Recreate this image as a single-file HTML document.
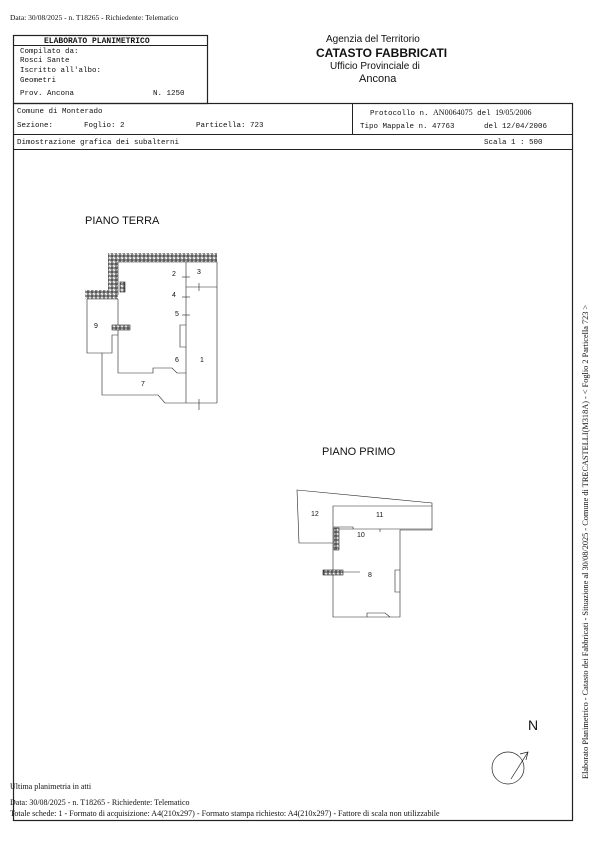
<!DOCTYPE html>
<html><head><meta charset="utf-8"><style>
body{margin:0;width:600px;height:848px;background:#fff;position:relative;overflow:hidden}
.t{position:absolute;font-family:"Liberation Serif",serif;font-size:8px;color:#111;white-space:nowrap}
.m{position:absolute;font-family:"Liberation Mono",monospace;font-size:7.5px;color:#111;white-space:nowrap}
.s{position:absolute;font-family:"Liberation Sans",sans-serif;color:#111;white-space:nowrap}
</style></head><body>
<div class="t" style="left:10px;top:13px;font-size:7.5px">Data: 30/08/2025 - n. T18265 - Richiedente: Telematico</div>

<svg width="600" height="848" style="position:absolute;left:0;top:0" fill="none" stroke="#222">
<defs><pattern id="h" width="4" height="4" patternUnits="userSpaceOnUse"><rect width="4" height="4" fill="#f2f2f2"/><line x1="0" y1="4" x2="4" y2="0" stroke="#999" stroke-width="0.5"/></pattern></defs>
<rect x="13.5" y="35.5" width="194" height="68" stroke-width="1.2"/>
<line x1="13" y1="45.5" x2="208" y2="45.5" stroke-width="1"/>
<rect x="13.5" y="103.5" width="559" height="717" stroke-width="1.2"/>
<line x1="352.5" y1="103" x2="352.5" y2="134" stroke-width="1"/>
<line x1="13" y1="134.5" x2="573" y2="134.5" stroke-width="1"/>
<line x1="13" y1="149.5" x2="573" y2="149.5" stroke-width="1"/>

<g stroke-width="0.6">
<rect x="108" y="253" width="109" height="9" fill="url(#h)" stroke="none"/>
<rect x="108" y="253" width="10" height="42" fill="url(#h)" stroke="none"/>
<rect x="85" y="290" width="33" height="9" fill="url(#h)" stroke="none"/>
<polyline points="118,295 118,262 217,262 217,403"/>
<line x1="186" y1="262" x2="186" y2="403"/>
<line x1="186" y1="287" x2="217" y2="287"/>
<line x1="182" y1="277" x2="190" y2="277"/><line x1="182" y1="297" x2="190" y2="297"/><line x1="182" y1="315" x2="190" y2="315"/>
<line x1="199" y1="283" x2="199" y2="291"/><line x1="199" y1="399" x2="199" y2="410"/>
<polyline points="186,325 180,325 180,347 186,347"/>
<polyline points="118,299 118,373 153,373 153,368 172,368 177,373 186,373"/>
<polyline points="87,299 118,299"/>
<polyline points="87,299 87,353 102,353 102,395 158,395 165,403 217,403"/>
<polyline points="102,353 112,353 112,335 118,335"/>
<rect x="112" y="325" width="18" height="5" fill="url(#h)"/>
<rect x="120" y="282" width="5" height="10" fill="url(#h)"/>
</g>

<g stroke-width="0.6">
<polygon points="297,490 432,503 432,530 400,530 400,617 333,617 333,543 299,543"/>
<polyline points="333,543 333,506 432,506"/>
<line x1="333" y1="529" x2="432" y2="529"/>
<polyline points="333,527 353,527 353,529"/>
<polyline points="380,529 380,532"/>
<polyline points="400,570 395,570 395,592 400,592"/>
<polyline points="367,617 367,613 385,613 390,617"/>
<rect x="334" y="528" width="5" height="22" fill="url(#h)"/>
<rect x="323" y="570" width="20" height="5" fill="url(#h)"/>
<line x1="343" y1="572" x2="360" y2="572"/>
</g>

<circle cx="508" cy="768" r="16" stroke-width="0.7"/>
<line x1="511" y1="779" x2="528" y2="752" stroke-width="0.7"/>
<polyline points="520,754 528,752 526,760" stroke-width="0.7"/>
</svg>

<div class="m" style="left:44px;top:37px;font-weight:bold;font-size:8px">ELABORATO PLANIMETRICO</div>
<div class="m" style="left:20px;top:48px">Compilato da:</div>
<div class="m" style="left:20px;top:57px">Rosci Sante</div>
<div class="m" style="left:20px;top:67px">Iscritto all'albo:</div>
<div class="m" style="left:20px;top:77px">Geometri</div>
<div class="m" style="left:20px;top:90px">Prov. Ancona</div>
<div class="m" style="left:153px;top:90px">N.  1250</div>

<div class="s" style="left:326px;top:34px;font-size:10px">Agenzia del Territorio</div>
<div class="s" style="left:316px;top:46px;font-size:12px;font-weight:bold">CATASTO FABBRICATI</div>
<div class="s" style="left:330px;top:61px;font-size:10px">Ufficio Provinciale di</div>
<div class="s" style="left:359px;top:73px;font-size:11px">Ancona</div>

<div class="m" style="left:17px;top:108px">Comune di Monterado</div>
<div class="m" style="left:17px;top:122px">Sezione:</div>
<div class="m" style="left:84px;top:122px">Foglio: 2</div>
<div class="m" style="left:196px;top:122px">Particella: 723</div>
<div class="m" style="left:370px;top:108px">Protocollo n. <span style="font-family:'Liberation Serif',serif;font-size:8px">AN0064075</span> del <span style="font-family:'Liberation Serif',serif;font-size:8px">19/05/2006</span></div>
<div class="m" style="left:360px;top:123px">Tipo Mappale n. 47763</div>
<div class="m" style="left:484px;top:123px">del 12/04/2006</div>
<div class="m" style="left:17px;top:139px">Dimostrazione grafica dei subalterni</div>
<div class="m" style="left:484px;top:139px">Scala 1 : 500</div>

<div class="s" style="left:85px;top:215px;font-size:11px">PIANO TERRA</div>
<div class="s" style="left:322px;top:446px;font-size:11px">PIANO PRIMO</div>

<div class="s" style="left:172px;top:271px;font-size:7px">2</div>
<div class="s" style="left:197px;top:269px;font-size:7px">3</div>
<div class="s" style="left:172px;top:292px;font-size:7px">4</div>
<div class="s" style="left:175px;top:311px;font-size:7px">5</div>
<div class="s" style="left:175px;top:357px;font-size:7px">6</div>
<div class="s" style="left:200px;top:357px;font-size:7px">1</div>
<div class="s" style="left:141px;top:381px;font-size:7px">7</div>
<div class="s" style="left:94px;top:323px;font-size:7px">9</div>

<div class="s" style="left:311px;top:511px;font-size:7px">12</div>
<div class="s" style="left:376px;top:512px;font-size:7px">11</div>
<div class="s" style="left:357px;top:532px;font-size:7px">10</div>
<div class="s" style="left:368px;top:572px;font-size:7px">8</div>

<div class="s" style="left:528px;top:717px;font-size:14px">N</div>

<div class="t" style="left:10px;top:782px">Ultima planimetria in atti</div>
<div class="t" style="left:10px;top:798px">Data: 30/08/2025 - n. T18265 - Richiedente: Telematico</div>
<div class="t" style="left:10px;top:809px;font-size:8.1px">Totale schede: 1 - Formato di acquisizione: A4(210x297)  - Formato stampa richiesto: A4(210x297) - Fattore di scala non utilizzabile</div>

<div class="t" style="left:581px;top:779px;font-size:8.3px;transform:rotate(-90deg);transform-origin:0 0">Elaborato Planimetrico - Catasto dei Fabbricati - Situazione al 30/08/2025 - Comune di TRECASTELLI(M318A) - &lt; Foglio 2 Particella 723 &gt;</div>
</body></html>
